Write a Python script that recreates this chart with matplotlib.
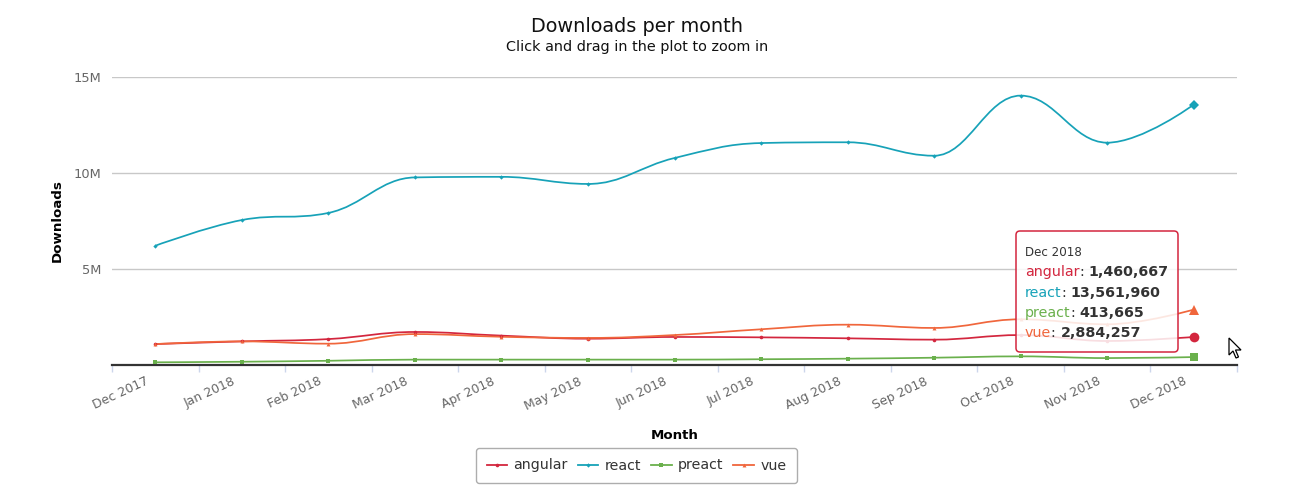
import matplotlib
matplotlib.use("Agg")
import matplotlib.pyplot as plt
from matplotlib.path import Path
from matplotlib.patches import PathPatch, FancyBboxPatch, Polygon
from matplotlib.lines import Line2D
from matplotlib.transforms import IdentityTransform, ScaledTranslation
import numpy as np

months = ["Dec 2017", "Jan 2018", "Feb 2018", "Mar 2018", "Apr 2018", "May 2018",
          "Jun 2018", "Jul 2018", "Aug 2018", "Sep 2018", "Oct 2018", "Nov 2018", "Dec 2018"]
angular = [1090000, 1230000, 1350000, 1720000, 1530000, 1370000, 1460000,
           1440000, 1390000, 1320000, 1560000, 1250000, 1460667]
react = [6210000, 7550000, 7920000, 9770000, 9800000, 9430000, 10780000,
         11560000, 11600000, 10900000, 14030000, 11580000, 13561960]
preact = [140000, 170000, 220000, 280000, 280000, 280000, 280000,
          300000, 330000, 380000, 450000, 360000, 413665]
vue = [1090000, 1230000, 1110000, 1610000, 1470000, 1410000, 1560000,
       1860000, 2100000, 1930000, 2380000, 2120000, 2884257]

series = [
    ("angular", angular, "#d3263e", "o", 2.6, 7.0),
    ("react", react, "#17a2b8", "D", 2.2, 5.2),
    ("preact", preact, "#6ab04c", "s", 2.6, 6.0),
    ("vue", vue, "#f0663c", "^", 2.8, 6.5),
]

W, H = 1297, 504
fig = plt.figure(figsize=(W / 100, H / 100), dpi=100)
left, right, top, bottom = 112, 1237, 77, 365
ax = fig.add_axes([left / W, (H - bottom) / H, (right - left) / W, (bottom - top) / H])


def hc_spline(xs, ys, smoothing=1.5):
    n = len(xs)
    denom = smoothing + 1
    lc = [(xs[i], ys[i]) for i in range(n)]
    rc = [(xs[i], ys[i]) for i in range(n)]
    for i in range(1, n - 1):
        px, py = xs[i], ys[i]
        lx, ly = xs[i - 1], ys[i - 1]
        nx, ny = xs[i + 1], ys[i + 1]
        lcx = (smoothing * px + lx) / denom
        lcy = (smoothing * py + ly) / denom
        rcx = (smoothing * px + nx) / denom
        rcy = (smoothing * py + ny) / denom
        corr = 0.0
        if rcx != lcx:
            corr = ((rcy - lcy) * (rcx - px)) / (rcx - lcx) + py - rcy
        lcy += corr
        rcy += corr
        if lcy > ly and lcy > py:
            lcy = max(ly, py)
            rcy = 2 * py - lcy
        elif lcy < ly and lcy < py:
            lcy = min(ly, py)
            rcy = 2 * py - lcy
        if rcy > ny and rcy > py:
            rcy = max(ny, py)
            lcy = 2 * py - rcy
        elif rcy < ny and rcy < py:
            rcy = min(ny, py)
            lcy = 2 * py - rcy
        lc[i] = (lcx, lcy)
        rc[i] = (rcx, rcy)
    verts = [(xs[0], ys[0])]
    codes = [Path.MOVETO]
    for i in range(1, n):
        verts += [rc[i - 1], lc[i], (xs[i], ys[i])]
        codes += [Path.CURVE4] * 3
    return Path(verts, codes)


x = np.arange(len(months))
for name, vals, col, mk, ms, big in series:
    p = hc_spline(list(x.astype(float)), [float(v) for v in vals])
    ax.add_patch(PathPatch(p, fill=False, edgecolor=col, lw=1.25, zorder=3))
    ax.plot(x[:-1], vals[:-1], linestyle="none", marker=mk, ms=ms, color=col,
            markeredgewidth=0, zorder=4)
    ax.plot(x[-1:], vals[-1:], linestyle="none", marker=mk, ms=big, color=col,
            markeredgewidth=0, zorder=4)

ax.set_xlim(-0.5, len(months) - 0.5)
ax.set_ylim(0, 15000000)
ax.set_yticks([5000000, 10000000, 15000000])
ax.set_yticklabels(["5M", "10M", "15M"])
ax.grid(axis="y", color="#c8c8c8", lw=1)
ax.set_axisbelow(True)
for s in ["top", "right", "left"]:
    ax.spines[s].set_visible(False)
ax.spines["bottom"].set_color("#333333")
ax.spines["bottom"].set_linewidth(1.6)
ax.tick_params(axis="y", length=0, pad=8, labelsize=9.4, labelcolor="#666666")

ax.set_xticks(np.arange(-0.5, len(months), 1.0))
ax.set_xticklabels([])
ax.tick_params(axis="x", which="major", length=5, color="#ccd6eb", width=1)
ax.set_xticks(x, minor=True)
ax.set_xticklabels(months, minor=True, rotation=25, ha="right", va="top",
                   rotation_mode="anchor", fontsize=9.0, color="#666666")
ax.tick_params(axis="x", which="minor", length=0, pad=7)
shift = ScaledTranslation(-10 / 100, 0, fig.dpi_scale_trans)
for lab in ax.get_xticklabels(minor=True):
    lab.set_transform(lab.get_transform() + shift)

ax.set_xlabel("Month", fontsize=9.6, fontweight="bold", color="black")
ax.set_ylabel("Downloads", fontsize=9.6, fontweight="bold", color="black")
ax.xaxis.set_label_coords(0.5, -(422 - 365 + 7) / (bottom - top))
ax.yaxis.set_label_coords(-(112 - 57 - 7) / (right - left), 0.5)

fig.text(637 / W, 1 - 27 / H, "Downloads per month", ha="center", va="center",
         fontsize=13.9, color="#111111")
fig.text(637 / W, 1 - 47 / H, "Click and drag in the plot to zoom in", ha="center",
         va="center", fontsize=10.4, color="#111111")

handles = [Line2D([0], [0], color=c, marker=m, ms=ms, markeredgewidth=0, lw=1.3)
           for _, _, c, m, ms, _ in series]
leg = fig.legend(handles, [s[0] for s in series], loc="center",
                 bbox_to_anchor=(636.5 / W, 1 - 465.5 / H), ncol=4, frameon=True,
                 fontsize=10.2, handlelength=1.45, handletextpad=0.45, columnspacing=0.7,
                 borderpad=0.75, borderaxespad=0, fancybox=True)
leg.get_frame().set_edgecolor("#999999")
leg.get_frame().set_linewidth(1.0)
for t in leg.get_texts():
    t.set_color("#333333")

# tooltip
tx0, ty0, tx1, ty1 = 1016, 231, 1178, 352
box = FancyBboxPatch((tx0, H - ty1), tx1 - tx0, ty1 - ty0,
                     boxstyle="round,pad=0,rounding_size=4", transform=IdentityTransform(),
                     facecolor="white", alpha=0.85, edgecolor="none", zorder=10)
fig.add_artist(box)
border = FancyBboxPatch((tx0, H - ty1), tx1 - tx0, ty1 - ty0,
                        boxstyle="round,pad=0,rounding_size=4", transform=IdentityTransform(),
                        facecolor="none", edgecolor="#d3263e", lw=1.1, zorder=11)
fig.add_artist(border)
fig.text(1025, H - 252, "Dec 2018", transform=IdentityTransform(), fontsize=8.6,
         color="#333333", va="center", ha="left", zorder=12)
renderer = fig.canvas.get_renderer()
rows = [("angular", angular[-1], "#d3263e", 276),
        ("react", react[-1], "#17a2b8", 297),
        ("preact", preact[-1], "#6ab04c", 317),
        ("vue", vue[-1], "#f0663c", 337)]
for name, val, col, yy in rows:
    t1 = fig.text(1025, H - yy, name, transform=IdentityTransform(), fontsize=10.3,
                  color=col, va="baseline", ha="left", zorder=12)
    w1 = t1.get_window_extent(renderer).width
    t2 = fig.text(1025 + w1, H - yy, ": ", transform=IdentityTransform(), fontsize=10.3,
                  color="#333333", va="baseline", ha="left", zorder=12)
    w2 = t2.get_window_extent(renderer).width
    fig.text(1025 + w1 + w2, H - yy, f"{val:,}", transform=IdentityTransform(),
             fontsize=10.3, color="#333333", fontweight="bold", va="baseline",
             ha="left", zorder=12)

# mouse cursor
cx, cy = 1229, 338
pts = [(0, 0), (0, 17), (4, 13), (7, 20), (9.5, 19), (6.5, 12), (12, 12)]
cursor = Polygon([(cx + a, H - (cy + b)) for a, b in pts], closed=True,
                 transform=IdentityTransform(), facecolor="white", edgecolor="black",
                 lw=0.9, zorder=13)
fig.add_artist(cursor)

fig.savefig("out.png", dpi=100)
